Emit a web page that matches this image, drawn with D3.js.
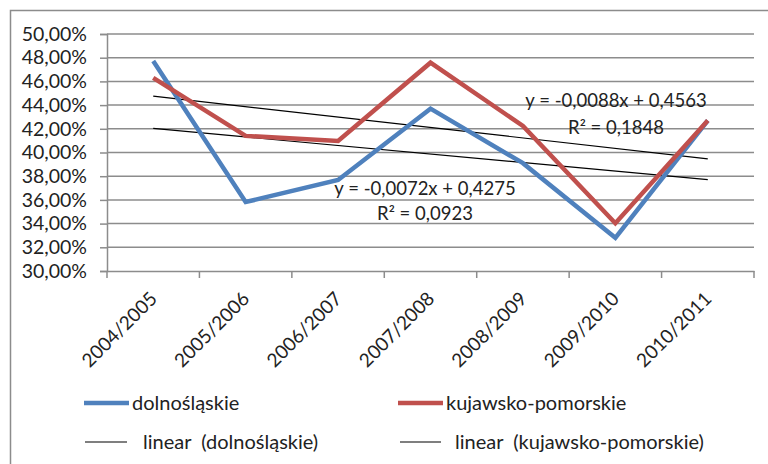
<!DOCTYPE html>
<html><head><meta charset="utf-8">
<script src="https://cdn.jsdelivr.net/npm/d3@7"></script>
<style>body{margin:0;background:#fff}svg{display:block}text{font-family:Lato,"Open Sans",sans-serif;fill:#222}</style>
</head><body><svg width="768" height="464"></svg>
<script>
const categories = ["2004/2005","2005/2006","2006/2007","2007/2008","2008/2009","2009/2010","2010/2011"];
const dolnoslaskie = [0.4772,0.3582,0.3768,0.4370,0.3910,0.3280,0.4270];
const kujawsko = [0.4630,0.4140,0.4097,0.4758,0.4224,0.3403,0.4270];
const trendDoln = {slope:-0.0072, intercept:0.4275, label:"y = -0,0072x + 0,4275", r2:"R² = 0,0923"};
const trendKuj = {slope:-0.0088, intercept:0.4563, label:"y = -0,0088x + 0,4563", r2:"R² = 0,1848"};
const yTicks = [0.30,0.32,0.34,0.36,0.38,0.40,0.42,0.44,0.46,0.48,0.50];
const legendNames = ["dolnośląskie","kujawsko-pomorskie","linear  (dolnośląskie)","linear  (kujawsko-pomorskie)"];

const svg = d3.select("svg");
const L=107, R=754, T=34, B=271;
svg.append("rect").attr("x",10.5).attr("y",10.5).attr("width",900).attr("height",600)
  .attr("fill","none").attr("stroke","#8c8c8c").attr("stroke-width",1.5);

const x = d3.scaleBand().domain(categories).range([L,R]);
const y = d3.scaleLinear().domain([0.30,0.50]).range([B,T]);
const fmt = v => d3.format(".2f")(v*100).replace(".",",")+"%";

// gridlines
svg.append("g").selectAll("line").data(yTicks.slice(1)).join("line")
  .attr("x1",L).attr("x2",R).attr("y1",d=>y(d)).attr("y2",d=>y(d))
  .attr("stroke","#8c8c8c").attr("stroke-width",1.5);

const ya = svg.append("g").attr("transform",`translate(${L},0)`)
  .call(d3.axisLeft(y).tickValues(yTicks).tickFormat(fmt).tickSize(7).tickPadding(13));
ya.select(".domain").attr("stroke","#8c8c8c").attr("stroke-width",1.5);
ya.selectAll(".tick line").attr("stroke","#8c8c8c").attr("stroke-width",1.5);
ya.selectAll("text").style("font-size","19.5px").attr("fill","#222");

const xa = svg.append("g").attr("transform",`translate(0,${B})`)
  .call(d3.axisBottom(x).tickSize(0).tickFormat(d=>d));
xa.select(".domain").attr("stroke","#8c8c8c").attr("stroke-width",1.5);
xa.selectAll(".tick text").style("font-size","19px").attr("fill","#222")
  .attr("text-anchor","end").attr("dy",0).attr("y",0)
  .attr("transform","translate(5,29) rotate(-45)");
// boundary ticks
const bounds = categories.map(c=>x(c)).concat([R]);
svg.append("g").selectAll("line").data(bounds).join("line")
  .attr("x1",d=>d).attr("x2",d=>d).attr("y1",B).attr("y2",B+7)
  .attr("stroke","#8c8c8c").attr("stroke-width",1.5);

const cx = c => x(c)+x.bandwidth()/2;
// trend lines
[trendDoln,trendKuj].forEach(t=>{
  const pts=[categories[0],categories[categories.length-1]].map(c=>[cx(c), y(t.intercept+t.slope*(categories.indexOf(c)+1))]);
  svg.append("path").attr("d",d3.line()(pts)).attr("stroke","#000").attr("stroke-width",1.2).attr("fill","none");
});
const line = d3.line().x((d,i)=>cx(categories[i])).y(d=>y(d));
svg.append("path").datum(dolnoslaskie).attr("d",line).attr("fill","none").attr("stroke","#4F81BD").attr("stroke-width",4.5);
svg.append("path").datum(kujawsko).attr("d",line).attr("fill","none").attr("stroke","#C0504D").attr("stroke-width",4.5);

// trend labels
const lbl=(t,xc,y1,y2)=>{
  svg.append("text").attr("x",xc).attr("y",y1).attr("text-anchor","middle").style("font-size","18.5px").text(t.label);
  svg.append("text").attr("x",xc).attr("y",y2).attr("text-anchor","middle").style("font-size","18.5px").text(t.r2);
};
lbl(trendKuj,616,107,134);
lbl(trendDoln,425,195,220);

// legend
const leg=[{c:"#4F81BD",w:4.5,x:84,x2:129,tx:132,y:403,n:legendNames[0]},
 {c:"#C0504D",w:4.5,x:398,x2:443,tx:446,y:403,n:legendNames[1]},
 {c:"#000",w:1.2,x:85,x2:127,tx:143,y:442,n:legendNames[2]},
 {c:"#000",w:1.2,x:400,x2:441,tx:455,y:442,n:legendNames[3]}];
leg.forEach(l=>{
  svg.append("line").attr("x1",l.x).attr("x2",l.x2).attr("y1",l.y).attr("y2",l.y).attr("stroke",l.c).attr("stroke-width",l.w);
  svg.append("text").attr("x",l.tx).attr("y",l.y+7).style("font-size","20px").style("white-space","pre").text(l.n);
});
</script></body></html>
